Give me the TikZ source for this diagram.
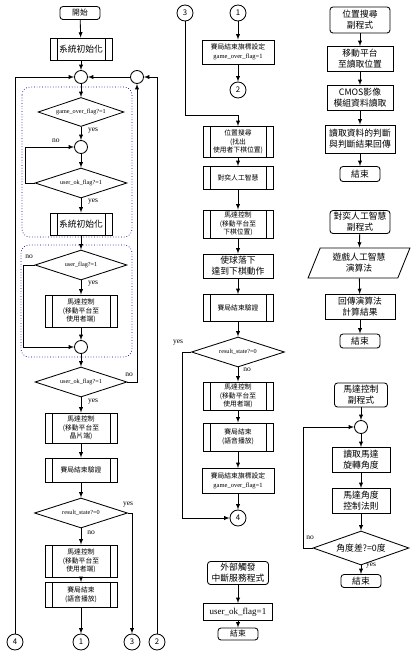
\documentclass[tikz,border=0pt]{standalone}
\usepackage{fontspec}
\setmainfont{Noto Sans CJK TC}
\newfontfamily\flagfont{Liberation Serif}
\usepackage{tikz}
\usetikzlibrary{shapes.geometric,positioning}

\newcommand\fsflag{\flagfont\fontsize{6.2}{7}\selectfont}
\newcommand\fslbl{\flagfont\fontsize{7.5}{8}\selectfont}
\newcommand\fssmall{\fontsize{6.8}{8.6}\selectfont}
\newcommand\fsmid{\fontsize{7.8}{9.5}\selectfont}
\newcommand\fsbig{\fontsize{8.8}{11}\selectfont}

\begin{document}
\begin{tikzpicture}[x=1pt,y=-1pt, line width=0.85pt,
                        arr/.style={-latex},
                        proc box/.style={draw, rectangle, align=center, inner sep=1pt, font=\fssmall},
                        term box/.style={proc box, rounded corners=3pt},
                        sub box/.style={proc box,
                          path picture={\draw ([xshift=7pt]path picture bounding box.north west) -- ([xshift=7pt]path picture bounding box.south west)
                                              ([xshift=-7pt]path picture bounding box.north east) -- ([xshift=-7pt]path picture bounding box.south east);}},
                        test node/.style={draw, diamond, aspect=3, inner sep=0pt, minimum width=92, minimum height=30, font=\fsflag},
                        io box/.style={draw, trapezium, trapezium left angle=68, trapezium right angle=112, align=center, inner sep=1pt, font=\fsbig},
                        join node/.style={draw, circle, inner sep=0pt, minimum size=13},
                        page node/.style={draw, circle, inner sep=0pt, minimum size=16, font=\fsmid},
                        group box/.style={blue!60!black, dotted, line width=0.7pt, rounded corners=8pt},
                        lbl/.style={font=\fslbl, inner sep=0pt}]

        \useasboundingbox (0,0) rectangle (417,657);

        % main loop
        \draw[group box] (22,87) rectangle (132,237);
        \draw[group box] (21,245) rectangle (132,357);

        \node[term box, minimum width=40, minimum height=13, font=\fsmid] (start) at (80,13) {開始};
        \node[sub box, minimum width=62, minimum height=22, font=\fsbig] (init1) at (81,49) {系統初始化};
        \node[join node] (j1) at (81,77) {};
        \node[join node] (j4) at (137,77) {};
        \node[test node, minimum width=86, minimum height=29] (d1) at (81,112) {game\_over\_flag?=1};
        \node[join node] (j2) at (81,147) {};
        \node[test node] (d2) at (81,183) {user\_ok\_flag?=1};
        \node[sub box, minimum width=62, minimum height=22, font=\fsbig] (init2) at (81,224) {系統初始化};
        \node[test node] (d3) at (81,265) {user\_flag?=1};
        \node[sub box, minimum width=72, minimum height=32] (mc1) at (81,311) {馬達控制\\(移動平台至\\使用者端)};
        \node[join node] (j3) at (81,347) {};
        \node[test node] (d4) at (81,382) {user\_ok\_flag?=1};
        \node[sub box, minimum width=72, minimum height=30] (mc2) at (81,428) {馬達控制\\(移動平台至\\晶片端)};
        \node[sub box, minimum width=72, minimum height=24] (chk1) at (81,470) {賽局結束驗證};
        \node[test node, minimum width=93] (d5) at (81,513) {result\_state?=0};
        \node[sub box, minimum width=72, minimum height=32] (mc3) at (81,561) {馬達控制\\(移動平台至\\使用者端)};
        \node[sub box, minimum width=72, minimum height=25] (snd1) at (81,595) {賽局結束\\(語音播放)};
        \node[page node] (c4) at (15,642) {4};
        \node[page node] (c1) at (81,642) {1};
        \node[page node] (c3) at (132,642) {3};
        \node[page node] (c2) at (157,642) {2};

        \draw[arr] (start) -- (init1);
        \draw[arr] (init1) -- (j1);
        \draw[arr] (j1) -- (d1);
        \draw[arr] (d1) -- (j2);
        \draw[arr] (j2) -- (d2);
        \draw[arr] (d2.west) -- ++(-9,0) |- (j2);
        \draw[arr] (d2) -- (init2);
        \draw[arr] (init2) -- (d3);
        \draw[arr] (d3) -- (mc1);
        \draw[arr] (d3.west) -- ++(-11,0) |- (j3);
        \draw[arr] (mc1) -- (j3);
        \draw[arr] (j3) -- (d4);
        \draw[arr] (d4.east) -| (j4);
        \draw[arr] (j4) -- (j1);
        \draw[arr] (c2) |- (j4);
        \draw[arr] (c4) |- (j1);
        \draw[arr] (d4) -- (mc2);
        \draw[arr] (mc2) -- (chk1);
        \draw[arr] (chk1) -- (d5);
        \draw[arr] (d5) -- (mc3);
        \draw[arr] (d5.east) -| (c3);
        \draw[arr] (mc3) -- (snd1);
        \draw[arr] (snd1) -- (c1);

        \node[lbl] at (93,131) {yes};
        \node[lbl] at (56,141) {no};
        \node[lbl] at (93,202) {yes};
        \node[lbl] at (29,257) {no};
        \node[lbl] at (93,284) {yes};
        \node[lbl] at (129,375) {no};
        \node[lbl] at (93,402) {yes};
        \node[lbl] at (128,505) {yes};
        \node[lbl] at (91,533) {no};

        % game branch
        \node[page node] (c3b) at (185,13) {3};
        \node[page node] (c1b) at (238,13) {1};
        \node[proc box, minimum width=72, minimum height=24] (flag1) at (238,52) {賽局結束旗標設定\\{\flagfont\fontsize{6.5}{7}\selectfont game\_over\_flag=1}};
        \node[page node] (c2b) at (238,90) {2};
        \coordinate (k3) at (185,115);
        \node[sub box, minimum width=70, minimum height=31] (pos) at (238,142) {位置搜尋\\(找出\\使用者下棋位置)};
        \node[sub box, minimum width=70, minimum height=23] (ai) at (238,178) {對奕人工智慧};
        \node[sub box, minimum width=70, minimum height=28] (mc4) at (238,224) {馬達控制\\(移動平台至\\下棋位置)};
        \node[proc box, minimum width=70, minimum height=24, font=\fsbig] (drop) at (238,266) {使球落下\\達到下棋動作};
        \node[sub box, minimum width=70, minimum height=27] (chk2) at (238,308) {賽局結束驗證};
        \node[test node, minimum width=93] (d6) at (238,352) {result\_state?=0};
        \node[sub box, minimum width=70, minimum height=28] (mc5) at (238,396) {馬達控制\\(移動平台至\\使用者端)};
        \node[sub box, minimum width=70, minimum height=28] (snd2) at (238,437) {賽局結束\\(語音播放)};
        \node[proc box, minimum width=72, minimum height=25] (flag2) at (238,481) {賽局結束旗標設定\\{\flagfont\fontsize{6.5}{7}\selectfont game\_over\_flag=1}};
        \node[page node] (c4b) at (238,518) {4};

        \draw[arr] (c1b) -- (flag1);
        \draw[arr] (flag1) -- (c2b);
        \draw (c3b) -- (k3);
        \draw[arr] (k3) -| (pos);
        \draw[arr] (pos) -- (ai);
        \draw[arr] (ai) -- (mc4);
        \draw[arr] (mc4) -- (drop);
        \draw[arr] (drop) -- (chk2);
        \draw[arr] (chk2) -- (d6);
        \draw[arr] (d6) -- (mc5);
        \draw[arr] (d6.west) -- ++(-9,0) |- (c4b);
        \draw[arr] (mc5) -- (snd2);
        \draw[arr] (snd2) -- (flag2);
        \draw[arr] (flag2) -- (c4b);
        \node[lbl] at (178,343) {yes};
        \node[lbl] at (247,370) {no};

        % interrupt
        \node[term box, minimum width=61, minimum height=23, font=\fsbig] (ext) at (238,573) {外部觸發\\中斷服務程式};
        \node[proc box, minimum width=69, minimum height=17, font=\flagfont\fontsize{9}{10}\selectfont] (uok) at (238,612) {user\_ok\_flag=1};
        \node[term box, minimum width=40, minimum height=12, font=\fsmid] (end2) at (238,634) {結束};
        \draw[arr] (ext) -- (uok);
        \draw[arr] (uok) -- (end2);

        % subroutines
        \node[term box, minimum width=60, minimum height=26, font=\fsbig] (sub1) at (360,20) {位置搜尋\\副程式};
        \node[proc box, minimum width=66, minimum height=25, font=\fsbig] (mv) at (360,59) {移動平台\\至讀取位置};
        \node[proc box, minimum width=66, minimum height=25, font=\fsbig] (cmos) at (360,98) {CMOS影像\\模組資料讀取};
        \node[proc box, minimum width=70, minimum height=28, font=\fsbig] (judge) at (360,139) {讀取資料的判斷\\與判斷結果回傳};
        \node[term box, minimum width=40, minimum height=15, font=\fsbig] (end3) at (360,174) {結束};
        \draw[arr] (sub1) -- (mv);
        \draw[arr] (mv) -- (cmos);
        \draw[arr] (cmos) -- (judge);
        \draw[arr] (judge) -- (end3);

        \node[term box, minimum width=60, minimum height=23, font=\fsbig] (sub2) at (360,222) {對奕人工智慧\\副程式};
        \node[io box, minimum width=92, minimum height=30] (alg) at (359,263) {遊戲人工智慧\\演算法};
        \node[proc box, minimum width=70, minimum height=25, font=\fsbig] (ret) at (360,307) {回傳演算法\\計算結果};
        \node[term box, minimum width=40, minimum height=14, font=\fsbig] (end4) at (360,341) {結束};
        \draw[arr] (sub2) -- (alg);
        \draw[arr] (alg) -- (ret);
        \draw[arr] (ret) -- (end4);

        \node[term box, minimum width=53, minimum height=24, font=\fsbig] (sub3) at (361,395) {馬達控制\\副程式};
        \node[join node] (j5) at (361,427) {};
        \node[proc box, minimum width=58, minimum height=25, font=\fsbig] (rd) at (361,460) {讀取馬達\\旋轉角度};
        \node[proc box, minimum width=58, minimum height=25, font=\fsbig] (law) at (361,501) {馬達角度\\控制法則};
        \node[test node, minimum width=96, minimum height=34, font=\fsbig] (d7) at (361,548) {角度差?=0度};
        \node[term box, minimum width=40, minimum height=13, font=\fsbig] (end5) at (361,581) {結束};
        \draw[arr] (sub3) -- (j5);
        \draw[arr] (j5) -- (rd);
        \draw[arr] (rd) -- (law);
        \draw[arr] (law) -- (d7);
        \draw[arr] (d7) -- (end5);
        \draw[arr] (d7.west) -- ++(-9,0) |- (j5);
        \node[lbl] at (310,538) {no};
        \node[lbl] at (371,566) {yes};
    \end{tikzpicture}
\end{document}
